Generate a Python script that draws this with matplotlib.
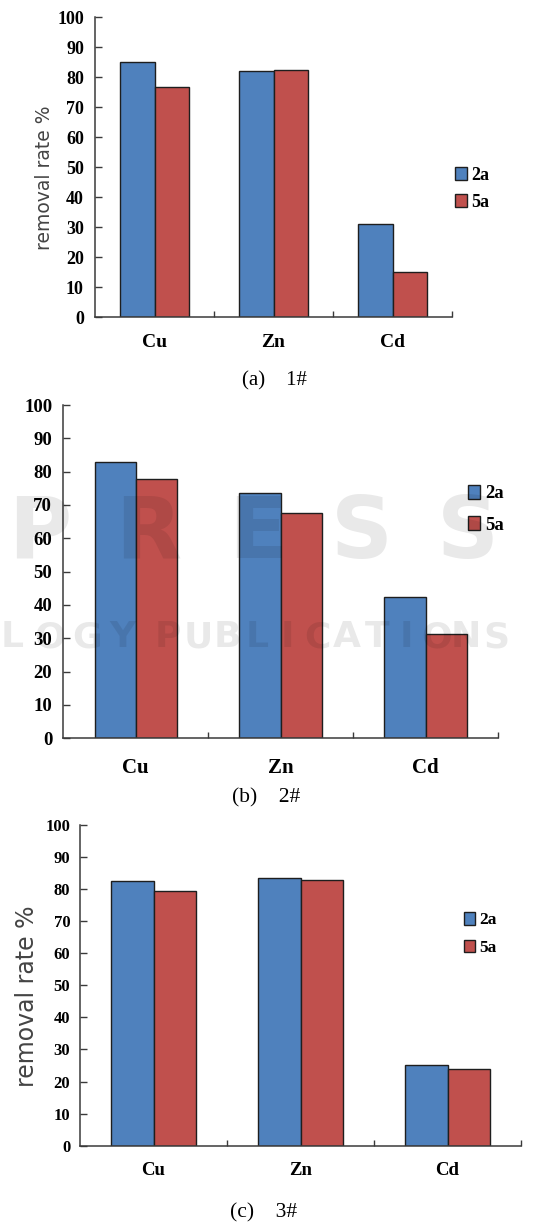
import matplotlib
matplotlib.use("Agg")
import matplotlib.pyplot as plt
from matplotlib.patches import Patch

# ---- data -------------------------------------------------------------
metals = ["Cu", "Zn", "Cd"]
series_names = ["2a", "5a"]

rate_1_2a = [85.1, 82.1, 31.1]
rate_1_5a = [76.7, 82.4, 15.0]

rate_2_2a = [82.8, 73.5, 42.3]
rate_2_5a = [77.7, 67.5, 31.2]

rate_3_2a = [82.6, 83.4, 25.1]
rate_3_5a = [79.4, 83.0, 23.9]

y_ticks = [0, 10, 20, 30, 40, 50, 60, 70, 80, 90, 100]
captions = ["(a)    1#", "(b)    2#", "(c)    3#"]
ylabel_text = "removal rate %"

# ---- style ------------------------------------------------------------
W, H = 559, 1225
BLUE = "#4F81BD"
RED = "#C0504D"
EDGE = "#1e1e1e"
SPINE = "#3a3a3a"
SERIF = ["Liberation Serif", "DejaVu Serif"]

fig = plt.figure(figsize=(W / 100, H / 100), dpi=100)
fig.patch.set_facecolor("white")


def axes_px(left, top, right, bottom):
    return fig.add_axes([left / W, 1 - bottom / H, (right - left) / W, (bottom - top) / H])


def draw_panel(ax, v2a, v5a, tick_fs, cat_fs, cat_pad, tick_pad, bar_w):
    x = list(range(len(metals)))
    ax.bar([i - bar_w / 2 for i in x], v2a, width=bar_w, color=BLUE,
           edgecolor=EDGE, linewidth=1.0, zorder=2)
    ax.bar([i + bar_w / 2 for i in x], v5a, width=bar_w, color=RED,
           edgecolor=EDGE, linewidth=1.0, zorder=2)
    ax.set_xlim(-0.5, 2.5)
    ax.set_ylim(0, 100)
    for s in ("top", "right"):
        ax.spines[s].set_visible(False)
    for s in ("left", "bottom"):
        ax.spines[s].set_color(SPINE)
        ax.spines[s].set_linewidth(1.1)
    ax.set_yticks(y_ticks)
    ax.set_yticklabels([str(t) for t in y_ticks], fontfamily=SERIF,
                       fontweight="bold", fontsize=tick_fs)
    ax.tick_params(axis="y", direction="in", length=5, width=1.0,
                   color=SPINE, pad=tick_pad)
    # category boundaries carry the tick marks, names sit at centres
    ax.set_xticks([0.5, 1.5, 2.5])
    ax.set_xticklabels([])
    ax.tick_params(axis="x", which="major", direction="in", length=4.5,
                   width=1.0, color=SPINE)
    ax.set_xticks(x, minor=True)
    ax.set_xticklabels(metals, minor=True, fontfamily=SERIF,
                       fontweight="bold", fontsize=cat_fs)
    ax.tick_params(axis="x", which="minor", length=0, pad=cat_pad)
    ax.set_facecolor("none")


def add_legend(left_px, top_px, fs, spacing):
    handles = [Patch(facecolor=BLUE, edgecolor=EDGE, linewidth=1.0),
               Patch(facecolor=RED, edgecolor=EDGE, linewidth=1.0)]
    fig.legend(handles, series_names, loc="upper left",
               bbox_to_anchor=(left_px / W, 1 - top_px / H),
               frameon=False, borderpad=0, borderaxespad=0,
               handlelength=0.65, handleheight=0.75, handletextpad=0.25,
               labelspacing=spacing,
               prop={"family": SERIF, "weight": "bold", "size": fs})


# panel (a)
ax1 = axes_px(95, 17.3, 452, 317.3)
draw_panel(ax1, rate_1_2a, rate_1_5a, 13, 14, 12, 8.0, 0.288)
add_legend(455, 167, 13, 0.55)
fig.text(44 / W, 1 - 178 / H, ylabel_text, rotation=90, ha="center",
         va="center", fontsize=13.5, color="#444444", family="DejaVu Sans")
fig.text(274 / W, 1 - 381 / H, captions[0], ha="center", va="center",
         fontsize=15, family=SERIF)

# panel (b)
ax2 = axes_px(63.3, 405, 498, 738.3)
draw_panel(ax2, rate_2_2a, rate_2_5a, 13.5, 15, 14, 8.0, 0.284)
add_legend(468, 485, 13.5, 0.75)
fig.text(266 / W, 1 - 798 / H, captions[1], ha="center", va="center",
         fontsize=15.5, family=SERIF)

# panel (c)
ax3 = axes_px(80, 825, 521, 1145.7)
draw_panel(ax3, rate_3_2a, rate_3_5a, 12, 13.5, 12, 7.0, 0.29)
add_legend(464, 912, 12.5, 0.65)
fig.text(27 / W, 1 - 996 / H, ylabel_text, rotation=90, ha="center",
         va="center", fontsize=17, color="#444444", family="DejaVu Sans")
fig.text(264 / W, 1 - 1213 / H, captions[2], ha="center", va="center",
         fontsize=15.5, family=SERIF)

# ---- faint publisher watermark -----------------------------------------
wm = dict(color="black", alpha=0.085, family="DejaVu Sans", fontweight="bold",
          ha="center", va="baseline", zorder=10)
for ch, cx in zip("PRESS", [40, 148, 258, 362, 468]):
    fig.text(cx / W, 1 - 558 / H, ch, fontsize=62, **wm)
for ch, cx in zip("LOGY", [12, 50, 87, 122]):
    fig.text(cx / W, 1 - 647 / H, ch, fontsize=26, **wm)
pub = "PUBLICATIONS"
for k, ch in enumerate(pub):
    cx = 168 + k * (496 - 168) / (len(pub) - 1)
    fig.text(cx / W, 1 - 647 / H, ch, fontsize=26, **wm)

fig.savefig("out.png", dpi=100, facecolor="white")
